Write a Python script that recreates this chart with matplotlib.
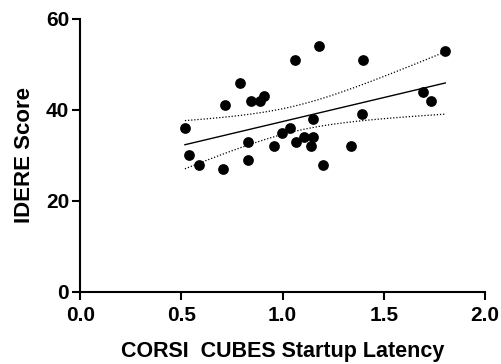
import numpy as np
import matplotlib
matplotlib.use("Agg")
import matplotlib.pyplot as plt

plt.rcParams['font.family'] = ['Liberation Sans', 'DejaVu Sans']

latency = [0.517, 0.537, 0.588, 0.707, 0.717, 0.788, 0.829, 0.829, 0.846, 0.889,
           0.910, 0.959, 0.998, 1.037, 1.059, 1.068, 1.108, 1.149, 1.141, 1.149,
           1.181, 1.200, 1.339, 1.392, 1.399, 1.692, 1.732, 1.804]
idere = [36, 30, 28, 27, 41, 46, 33, 29, 42, 42,
         43, 32, 35, 36, 51, 33, 34, 34, 32, 38,
         54, 28, 32, 39, 51, 44, 42, 53]

x = np.array(latency)
y = np.array(idere)
n = len(x)
slope, intercept = np.polyfit(x, y, 1)
xs = np.linspace(x.min(), x.max(), 200)
yfit = slope * xs + intercept
resid = y - (slope * x + intercept)
s = np.sqrt(np.sum(resid ** 2) / (n - 2))
t = 2.056
se = s * np.sqrt(1 / n + (xs - x.mean()) ** 2 / np.sum((x - x.mean()) ** 2))

fig = plt.figure(figsize=(5.02, 3.64), dpi=100)
ax = fig.add_axes([0.160, 0.198, 0.806, 0.750])
ax.scatter(x, y, s=60, color='black', zorder=3, linewidths=0)
ax.plot(xs, yfit, color='black', lw=1.0)
ax.plot(xs, yfit + t * se, color='black', lw=0.9, ls=(0, (1, 1.5)))
ax.plot(xs, yfit - t * se, color='black', lw=0.9, ls=(0, (1, 1.5)))

ax.set_xlim(0, 2.0)
ax.set_ylim(0, 60)
ax.set_xticks([0.0, 0.5, 1.0, 1.5, 2.0])
ax.set_xticklabels(['0.0', '0.5', '1.0', '1.5', '2.0'])
ax.set_yticks([0, 20, 40, 60])
for sp in ['top', 'right']:
    ax.spines[sp].set_visible(False)
for sp in ['left', 'bottom']:
    ax.spines[sp].set_linewidth(1.5)
ax.tick_params(width=1.5, length=6, labelsize=15)
ax.tick_params(axis='x', pad=4)
ax.tick_params(axis='y', pad=2)
for lab in ax.get_xticklabels() + ax.get_yticklabels():
    lab.set_fontweight('bold')
ax.set_xlabel('CORSI  CUBES Startup Latency', fontsize=15.5, fontweight='bold', labelpad=12)
ax.set_ylabel('IDERE Score', fontsize=16, fontweight='bold', labelpad=8)

fig.savefig('out.png', dpi=100)
